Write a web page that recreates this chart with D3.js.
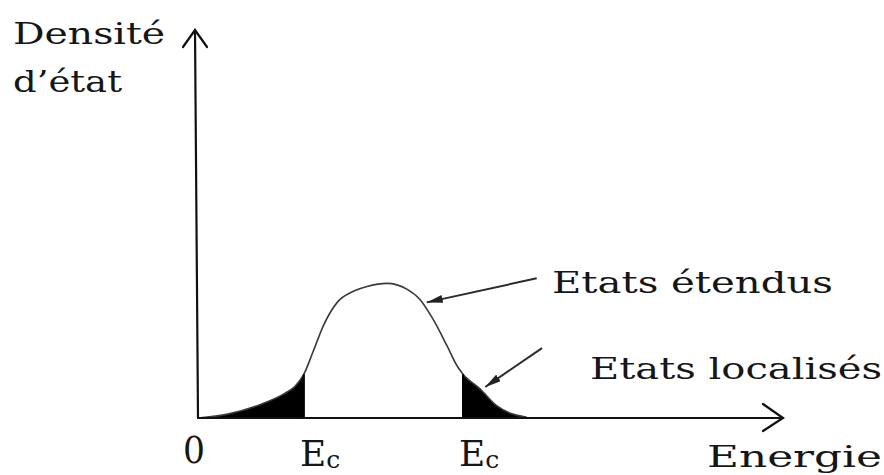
<!DOCTYPE html>
<html>
<head>
<meta charset="utf-8">
<script src="https://cdn.jsdelivr.net/npm/d3@7"></script>
<style>
  html, body { margin: 0; padding: 0; background: #fff; }
  svg { display: block; }
  text { font-family: "DejaVu Serif", "Liberation Serif", serif; fill: #161616; }
</style>
</head>
<body>
<svg id="chart" width="884" height="475"></svg>
<script>
// Density of states versus energy (arbitrary units, 0–100 on both axes)
const energy  = [0, 5.1, 10.9, 14.9, 16.6, 18.1, 19.7, 21.4, 23.8, 26.5, 28.9, 32.3, 35.7, 37.9, 40.2, 42.6, 44.3, 45.3, 48.2, 51.1, 53.8, 56.2];
const density = [0, 1.0, 3.6, 6.4, 8.2, 11.3, 17.2, 23.7, 29.8, 32.6, 33.9, 34.7, 33.2, 30.6, 25.4, 18.5, 13.4, 11.3, 7.5, 3.1, 1.0, 0.2];

// Mobility edges separating localised tails from extended states
const mobilityEdges = [18.1, 45.3];
const edgeLabels = ["E", "E"];
const edgeSub = ["c", "c"];

// Annotations: label, arrow start (energy, density), arrow tip (energy, density)
const annotations = [
  { label: "Etats étendus",   from: [57.9, 36.0], to: [39.1, 29.8] },
  { label: "Etats localisés", from: [58.8, 18.0], to: [49.1, 8.0] }
];

const xMax = 100, yMax = 100;

const svg = d3.select("#chart");
const x = d3.scaleLinear().domain([0, xMax]).range([198, 783]);
const y = d3.scaleLinear().domain([0, yMax]).range([418, 30]);

const pts = energy.map((e, i) => ({ e, d: density[i] }));

// Shaded localised tails
const area = d3.area()
  .x(p => x(p.e)).y0(y(0)).y1(p => y(p.d))
  .curve(d3.curveMonotoneX);

const lowTail = pts.filter(p => p.e <= mobilityEdges[0]);
const highTail = pts.filter(p => p.e >= mobilityEdges[1]);
[lowTail, highTail].forEach(seg => {
  svg.append("path").datum(seg).attr("d", area).attr("fill", "#000");
});

// DOS curve
const line = d3.line().x(p => x(p.e)).y(p => y(p.d)).curve(d3.curveMonotoneX);
svg.append("path").datum(pts).attr("d", line)
  .attr("fill", "none").attr("stroke", "#3a3a3a").attr("stroke-width", 1.6);

// Axes with open arrowheads
const axisG = svg.append("g").attr("stroke", "#111").attr("stroke-width", 2.2)
  .attr("fill", "none").attr("stroke-linecap", "round");
axisG.append("line").attr("x1", x(0)).attr("y1", y(0)).attr("x2", x(xMax)).attr("y2", y(0));
axisG.append("line").attr("x1", x(0)).attr("y1", y(0)).attr("x2", x(0) - 3).attr("y2", y(yMax));
axisG.append("path").attr("d",
  `M${x(xMax) - 20},${y(0) - 14} L${x(xMax)},${y(0)} L${x(xMax) - 20},${y(0) + 13}`);
axisG.append("path").attr("d",
  `M${x(0) - 15},${y(yMax) + 17} L${x(0) - 3},${y(yMax)} L${x(0) + 9},${y(yMax) + 17}`);

// Annotation arrows with filled heads
svg.append("defs").append("marker")
  .attr("id", "head").attr("viewBox", "0 0 16 8")
  .attr("refX", 16).attr("refY", 4)
  .attr("markerWidth", 16).attr("markerHeight", 8)
  .attr("markerUnits", "userSpaceOnUse")
  .attr("orient", "auto")
  .append("path").attr("d", "M0,0 L16,4 L0,8 Z").attr("fill", "#222");

annotations.forEach(a => {
  svg.append("line")
    .attr("x1", x(a.from[0])).attr("y1", y(a.from[1]))
    .attr("x2", x(a.to[0])).attr("y2", y(a.to[1]))
    .attr("stroke", "#2a2a2a").attr("stroke-width", 2)
    .attr("marker-end", "url(#head)");
});

// Text labels
function label(txt, tx, ty, size, len) {
  svg.append("text").attr("x", tx).attr("y", ty)
    .attr("font-size", size)
    .attr("textLength", len).attr("lengthAdjust", "spacingAndGlyphs")
    .text(txt);
}
label("Densité", 13, 44, 30, 152);
label("d’état", 13, 92, 30, 109);
label(annotations[0].label, 552, 293, 30, 281);
label(annotations[1].label, 590, 379, 30, 292);
label("Energie", 707, 467, 30, 175);
label("0", 183, 463, 38, 22);

mobilityEdges.forEach((e, i) => {
  const t = svg.append("text").attr("x", x(e) - 4).attr("y", 466).attr("font-size", 36);
  t.append("tspan").text(edgeLabels[i]);
  t.append("tspan").attr("font-size", 25).attr("dy", 2).text(edgeSub[i]);
});

// Vertical edges at the mobility edges (boundaries of shaded tails)
mobilityEdges.forEach(e => {
  const i = energy.indexOf(e);
  svg.append("line").attr("x1", x(e)).attr("x2", x(e))
    .attr("y1", y(0)).attr("y2", y(density[i]))
    .attr("stroke", "#000").attr("stroke-width", 2);
});
</script>
</body>
</html>
